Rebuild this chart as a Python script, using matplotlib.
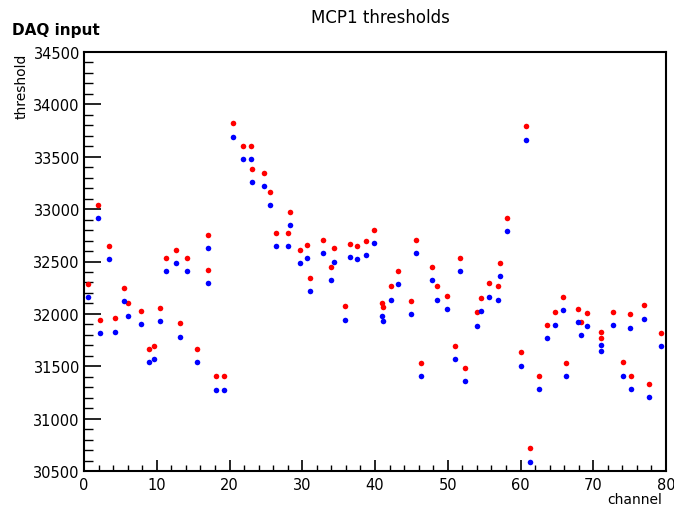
import matplotlib
matplotlib.use("Agg")
import matplotlib.pyplot as plt
from matplotlib.ticker import MultipleLocator

channel = [0.6, 1.9, 2.2, 3.4, 4.3, 5.5, 6.1, 7.8, 9.0, 9.6,
           10.5, 11.3, 12.7, 13.2, 14.1, 15.5, 17.0, 17.1, 18.1, 19.2,
           20.5, 21.9, 22.9, 23.1, 24.8, 25.6, 26.4, 28.0, 28.3, 29.7,
           30.6, 31.1, 32.8, 33.9, 34.4, 35.9, 36.5, 37.5, 38.7, 39.9,
           40.9, 41.1, 42.2, 43.1, 44.9, 45.7, 46.3, 47.8, 48.5, 49.9,
           51.0, 51.7, 52.4, 54.0, 54.6, 55.7, 56.9, 57.2, 58.1, 60.0,
           60.7, 61.3, 62.5, 63.7, 64.8, 65.9, 66.3, 67.9, 68.3, 69.1,
           71.1, 71.1, 72.7, 74.1, 75.1, 75.2, 77.0, 77.7, 79.3]

thr_red = [32285, 33040, 31945, 32650, 31960, 32250, 32105, 32025, 31665, 31695,
           32060, 32530, 32610, 31910, 32535, 31665, 32420, 32755, 31405, 31405,
           33820, 33605, 33605, 33380, 33345, 33160, 32770, 32775, 32975, 32610,
           32655, 32345, 32705, 32445, 32625, 32075, 32665, 32645, 32695, 32805,
           32105, 32065, 32265, 32410, 32125, 32705, 31535, 32450, 32265, 32170,
           31690, 32530, 31485, 32015, 32155, 32295, 32265, 32485, 32920, 31635,
           33790, 30715, 31405, 31895, 32015, 32165, 31530, 32050, 31920, 32005,
           31825, 31770, 32020, 31540, 31995, 31410, 32080, 31335, 31820]

thr_blue = [32160, 32915, 31820, 32520, 31830, 32125, 31980, 31900, 31540, 31570,
            31930, 32410, 32485, 31780, 32410, 31540, 32295, 32625, 31275, 31275,
            33690, 33480, 33480, 33255, 33220, 33035, 32645, 32650, 32850, 32485,
            32530, 32215, 32580, 32320, 32500, 31945, 32540, 32520, 32565, 32675,
            31980, 31935, 32135, 32285, 32000, 32580, 31405, 32325, 32135, 32045,
            31565, 32405, 31360, 31885, 32030, 32165, 32135, 32360, 32790, 31505,
            33660, 30590, 31280, 31770, 31890, 32040, 31405, 31920, 31795, 31880,
            31700, 31650, 31895, 31410, 31865, 31280, 31955, 31205, 31690]

title = "MCP1 thresholds"
corner_label = "DAQ input"
xlabel = "channel"
ylabel = "threshold"

W, H = 674, 510
fig = plt.figure(figsize=(W / 100, H / 100), dpi=100)
fig.patch.set_facecolor("white")

left, right, top, bottom = 84, 666, 53, 472
ax = fig.add_axes([left / W, 1 - bottom / H, (right - left) / W, (bottom - top) / H])

ax.plot(channel, thr_red, 'o', color='#ff0000', ms=4, mew=0, zorder=3)
ax.plot(channel, thr_blue, 'o', color='#0000ff', ms=4, mew=0, zorder=3)

ax.set_xlim(0, 80)
ax.set_ylim(30500, 34500)

ax.xaxis.set_major_locator(MultipleLocator(10))
ax.xaxis.set_minor_locator(MultipleLocator(2))
ax.yaxis.set_major_locator(MultipleLocator(500))
ax.yaxis.set_minor_locator(MultipleLocator(100))

ax.tick_params(axis='x', which='major', direction='in', length=8, width=1.2, pad=4,
               labelsize=10.5, top=False)
ax.tick_params(axis='x', which='minor', direction='in', length=4, width=1.0, top=False)
ax.tick_params(axis='y', which='major', direction='in', length=12.5, width=1.2, pad=3,
               labelsize=10.5, right=False)
ax.tick_params(axis='y', which='minor', direction='in', length=6.2, width=1.0, right=False)

for s in ax.spines.values():
    s.set_linewidth(1.5)
    s.set_color('black')

fig.text(380 / W, 1 - 18 / H, title, ha='center', va='center', fontsize=12)
fig.text(12 / W, 1 - 31 / H, corner_label, ha='left', va='center', fontsize=11, fontweight='bold')
fig.text(22 / W, 1 - 54 / H, ylabel, rotation=90, ha='center', va='top', fontsize=10)
fig.text(662 / W, 1 - 500 / H, xlabel, ha='right', va='center', fontsize=10)

fig.savefig("out.png", dpi=100)
